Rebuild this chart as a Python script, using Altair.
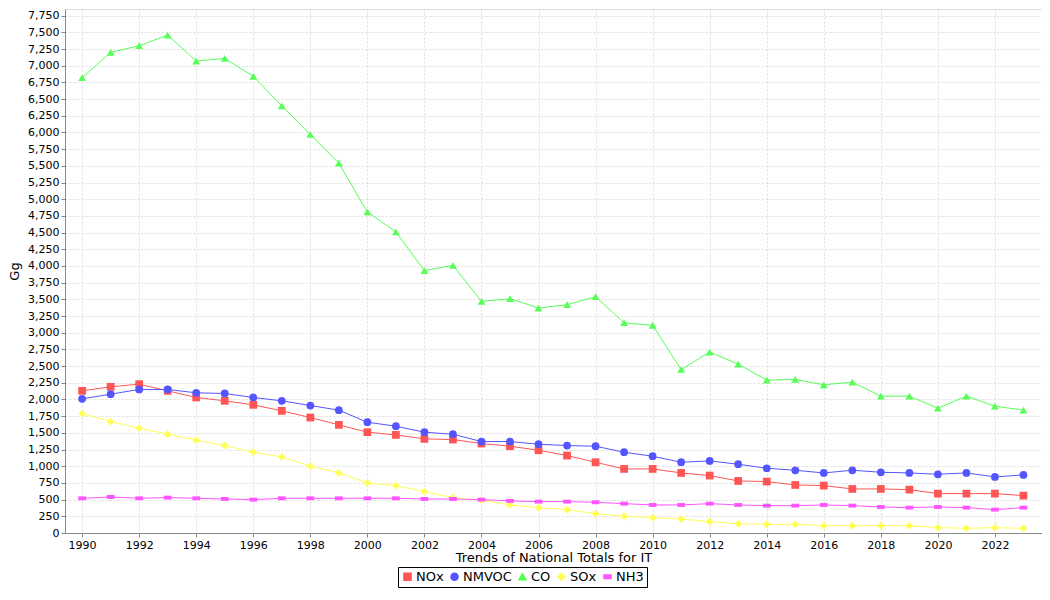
import altair as alt
import pandas as pd

years = list(range(1990, 2024))
nox = [2130, 2190, 2230, 2130, 2030, 1980, 1920, 1830, 1730, 1620, 1510, 1470, 1410, 1400, 1340, 1300, 1240, 1160, 1060, 960, 960, 900, 860, 780, 770, 720, 710, 660, 660, 650, 590, 590, 590, 560]
nmvoc = [2010, 2080, 2150, 2150, 2100, 2090, 2030, 1980, 1910, 1840, 1660, 1600, 1510, 1480, 1370, 1370, 1330, 1310, 1300, 1210, 1150, 1060, 1080, 1030, 970, 940, 900, 940, 910, 900, 880, 900, 840, 870]
co = [6820, 7200, 7300, 7460, 7070, 7110, 6840, 6400, 5970, 5540, 4810, 4510, 3930, 4010, 3470, 3510, 3370, 3420, 3540, 3150, 3110, 2450, 2710, 2530, 2290, 2300, 2220, 2260, 2050, 2050, 1870, 2050, 1900, 1840]
sox = [1790, 1670, 1570, 1480, 1390, 1310, 1210, 1140, 1000, 900, 750, 710, 620, 530, 490, 420, 380, 350, 290, 250, 230, 210, 170, 140, 130, 130, 110, 110, 110, 110, 80, 70, 80, 70]
nh3 = [520, 540, 520, 530, 520, 510, 500, 520, 520, 520, 520, 520, 510, 510, 500, 480, 470, 470, 460, 440, 420, 420, 440, 420, 410, 410, 420, 410, 390, 380, 390, 380, 350, 380]

series = ["NOx", "NMVOC", "CO", "SOx", "NH3"]
colors = ["#FF5555", "#5555FF", "#55FF55", "#FFFF55", "#FF55FF"]
shapes = ["square", "circle", "triangle-up", "diamond", "M-1,-0.5L1,-0.5L1,0.5L-1,0.5Z"]

df = pd.DataFrame({"Year": years, "NOx": nox, "NMVOC": nmvoc, "CO": co, "SOx": sox, "NH3": nh3})
long = df.melt(id_vars="Year", var_name="Series", value_name="Gg")

font = "DejaVu Sans"
xvals = list(range(1990, 2024, 2))

x = alt.X("Year:Q", scale=alt.Scale(domain=[1989.4, 2023.65], nice=False, zero=False),
          axis=alt.Axis(values=xvals, format="d", title="Trends of National Totals for IT",
                        labelFont=font, labelFontSize=11, labelColor="#000",
                        titleFont=font, titleFontSize=13, titleFontWeight="normal", titleColor="#000",
                        titlePadding=1, grid=True, gridDash=[2, 2], gridColor="#dddddd",
                        domainColor="#888888", tickColor="#888888", tickSize=4, labelPadding=2))
y = alt.Y("Gg:Q", scale=alt.Scale(domain=[0, 7850], nice=False),
          axis=alt.Axis(values=list(range(0, 7751, 250)), format=",d", title="Gg",
                        labelFont=font, labelFontSize=11, labelColor="#000",
                        titleFont=font, titleFontSize=13, titleFontWeight="normal", titleColor="#000",
                        titlePadding=6, grid=True, gridDash=[2, 2], gridColor="#dddddd",
                        domainColor="#888888", tickColor="#888888", tickSize=4, labelPadding=2))
legend = alt.Legend(title=None, orient="none", legendX=333, legendY=558,
                    direction="horizontal", labelFont=font, labelFontSize=13,
                    labelColor="#000", strokeColor="#000", padding=3,
                    columnPadding=3, symbolSize=50, labelOffset=2)
color = alt.Color("Series:N", scale=alt.Scale(domain=series, range=colors), legend=legend)
shape = alt.Shape("Series:N", scale=alt.Scale(domain=series, range=shapes), legend=legend)

lines = alt.Chart(long).mark_line(strokeWidth=1).encode(x=x, y=y, color=color, detail="Series:N")
points = alt.Chart(long).mark_point(filled=True, size=60, opacity=1).encode(x=x, y=y, color=color, shape=shape)

chart = alt.layer(lines, points).properties(
    width=977, height=524,
    autosize=alt.AutoSizeParams(type="none"),
    padding={"left": 57, "top": 1, "right": 0, "bottom": 59},
).configure_view(stroke="#aaaaaa").configure(background="white")

chart.save("out.html", embed_options={"renderer": "svg", "actions": False})
